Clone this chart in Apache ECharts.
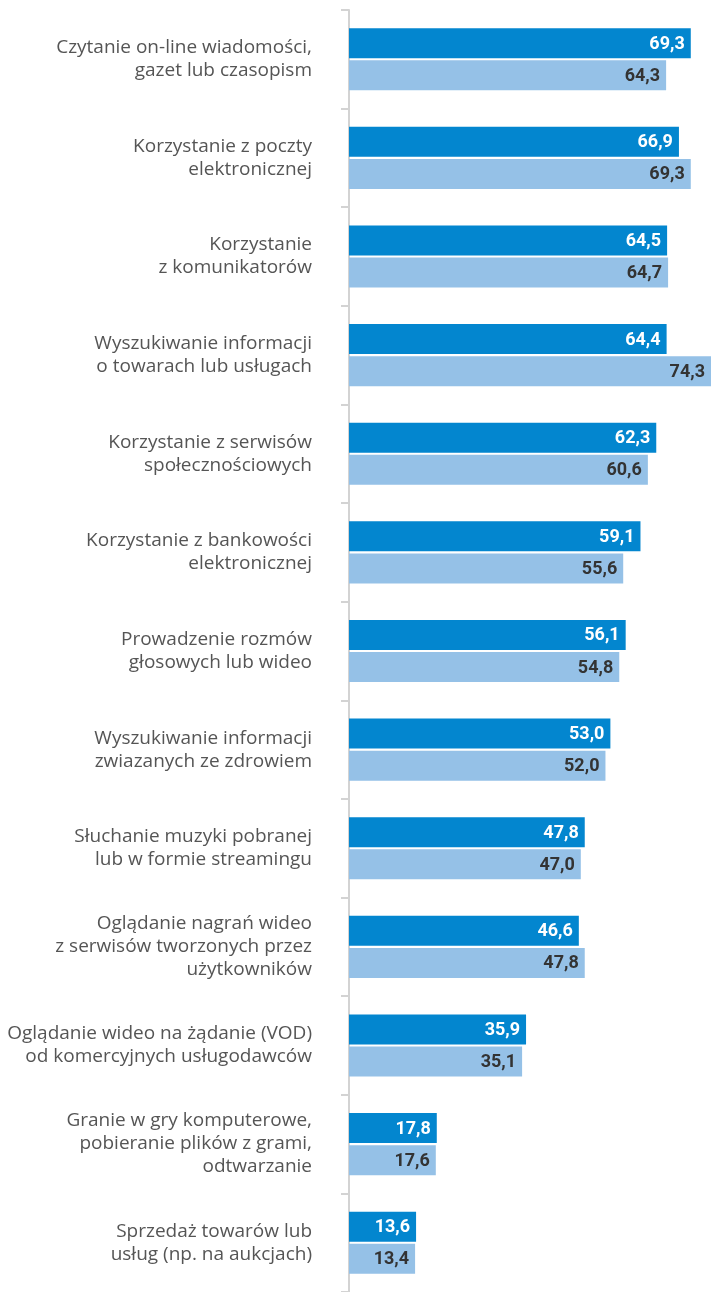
<!DOCTYPE html>
<html><head><meta charset="utf-8">
<script src="https://cdn.jsdelivr.net/npm/echarts@6/dist/echarts.min.js"></script>
<style>html,body{margin:0;padding:0;background:#fff}#c{width:711px;height:1292px}</style>
</head><body><div id="c"></div>
<script>
const categories = [
  "Czytanie on-line wiadomości,\ngazet lub czasopism",
  "Korzystanie z poczty\nelektronicznej",
  "Korzystanie\nz komunikatorów",
  "Wyszukiwanie informacji\no towarach lub usługach",
  "Korzystanie z serwisów\nspołecznościowych",
  "Korzystanie z bankowości\nelektronicznej",
  "Prowadzenie rozmów\ngłosowych lub wideo",
  "Wyszukiwanie informacji\nzwiazanych ze zdrowiem",
  "Słuchanie muzyki pobranej\nlub w formie streamingu",
  "Oglądanie nagrań wideo\nz serwisów tworzonych przez\nużytkowników",
  "Oglądanie wideo na żądanie (VOD)\nod komercyjnych usługodawców",
  "Granie w gry komputerowe,\npobieranie plików z grami,\nodtwarzanie",
  "Sprzedaż towarów lub\nusług (np. na aukcjach)"
];
const seriesDark = [69.3, 66.9, 64.5, 64.4, 62.3, 59.1, 56.1, 53.0, 47.8, 46.6, 35.9, 17.8, 13.6];
const seriesLight = [64.3, 69.3, 64.7, 74.3, 60.6, 55.6, 54.8, 52.0, 47.0, 47.8, 35.1, 17.6, 13.4];

const fmt = p => p.value.toFixed(1).replace('.', ',');
const chart = echarts.init(document.getElementById('c'), null, {renderer: 'canvas'});
chart.setOption({
  animation: false,
  grid: {left: 349, right: 0, top: 10, bottom: 0, containLabel: false},
  xAxis: {type: 'value', min: 0, max: 73.4, show: false},
  yAxis: {
    type: 'category', data: categories, inverse: true,
    axisLine: {show: true, lineStyle: {color: '#d3d3d3', width: 2}},
    axisTick: {show: true, length: 8, lineStyle: {color: '#d3d3d3', width: 2}},
    axisLabel: {margin: 37, color: '#555', fontFamily: 'Open Sans', fontSize: 19, lineHeight: 23, align: 'right', padding: [0, 0, 3, 0]}
  },
  series: [
    {type: 'bar', data: seriesDark, barWidth: 30, barGap: '7%', clip: true,
     itemStyle: {color: '#0386CF'},
     label: {show: true, position: 'insideRight', offset: [-1, 1], formatter: fmt, color: '#fff', fontFamily: 'Roboto', fontWeight: 'bold', fontSize: 18}},
    {type: 'bar', data: seriesLight, barWidth: 30, barGap: '7%', clip: true,
     itemStyle: {color: '#95C1E7'},
     label: {show: true, position: 'insideRight', offset: [-1, 1], formatter: fmt, color: '#333', fontFamily: 'Roboto', fontWeight: 'bold', fontSize: 18}}
  ]
});
</script></body></html>
